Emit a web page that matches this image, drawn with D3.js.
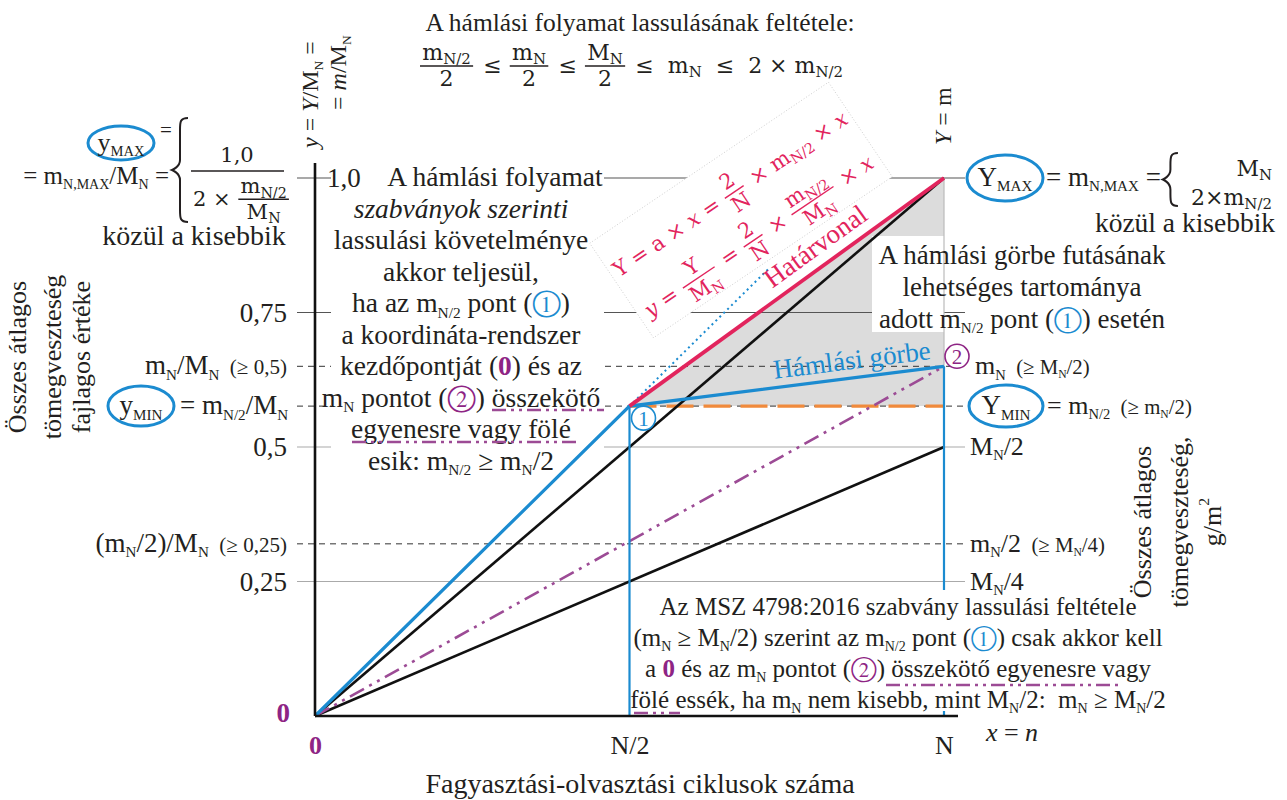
<!DOCTYPE html>
<html>
<head>
<meta charset="utf-8">
<script src="https://cdn.jsdelivr.net/npm/d3@7"></script>
<style>
  body { margin: 0; background: #fff; }
  svg { display: block; }
  text { white-space: pre; }
</style>
</head>
<body>
<svg id="chart" width="1287" height="800"></svg>
<script>
// chart values (x = n/N, y = m/M_N)
var cycleTicks = [0, 0.5, 1]
var cycleLabels = ["0", "N/2", "N"]
var ratioTicks = [0.25, 0.5, 0.75, 1.0]
var ratioLabels = ["0,25", "0,5", "0,75", "1,0"]
var refRatios = [0.65, 0.576, 0.32]      // m_N/M_N, m_N/2/M_N (y_MIN), (m_N/2)/M_N
var gorbeX = [0, 0.5, 1]                  // Hámlási görbe
var gorbeY = [0, 0.576, 0.65]
var hatarX = [0.5, 1]                     // Határvonal
var hatarY = [0.576, 1.0]
var rayX = [0, 1]
var rayUpperY = [0, 1.0]                  // 0 -> Y_MAX
var rayLowerY = [0, 0.5]                  // 0 -> M_N/2
var rayMnY = [0, 0.65]                    // 0 -> m_N (pont 2)
var extX = [0.5, 0.72]                    // blue dotted continuation
var extY = [0.576, 0.83]

var blue = "#1b8bd0", red = "#e2245d", purple = "#9c4b95", purpleText = "#8e2484"
var orange = "#f08a3c", ink = "#231f20"
var FF = "Liberation Serif"
var MF = "DejaVu Serif"
var CF = "FreeSerif"

var svg = d3.select("#chart").style("fill", ink).style("color", ink).attr("font-family", FF)

var x = d3.scaleLinear().domain([0, 1]).range([315, 944])
var y = d3.scaleLinear().domain([0, 1]).range([716, 178])
var line = d3.line().x(function (d) { return x(d[0]) }).y(function (d) { return y(d[1]) })
var zip = function (a, b) { return a.map(function (v, i) { return [v, b[i]] }) }

// ---------- text helpers ----------
function rich(t, str, fs, ff) {
    var parts = str.split(/(_\{[^}]*\}|\^\{[^}]*\}|\*[^*]+\*|\[[bpP][^\]]*\])/).filter(function (p) { return p !== "" })
    var sub = ff == MF ? 0.68 : 0.56
    var shift = 0
    parts.forEach(function (p) {
        var txt = p, size = fs, target = 0
        var ts = t.append("tspan")
        if (p.slice(0, 2) == "_{") { txt = p.slice(2, -1); size = fs * sub; target = fs * 0.2 }
        else if (p.slice(0, 2) == "^{") { txt = p.slice(2, -1); size = fs * 0.6; target = -fs * 0.45 }
        else if (p[0] == "*" && p.length > 2) { txt = p.slice(1, -1); ts.style("font-style", "italic") }
        else if (p[0] == "[") {
            txt = p.slice(2, -1)
            ts.style("fill", p[1] == "b" ? blue : purpleText)
            if (p[1] == "P") ts.style("font-weight", "bold")
            else { ts.attr("font-family", CF).style("font-family", CF); size = fs * 1.1 }
        }
        ts.attr("dy", target - shift).style("font-size", size + "px").text(txt)
        shift = target
    })
}

function mathRow(parent, items, fs, ff) {
    var g = parent.append("g")
    var cx = 0
    items.forEach(function (it) {
        if (typeof it === "string" || it.t !== undefined) {
            var s = typeof it === "string" ? it : it.t
            var f = typeof it === "string" ? fs : fs * it.s
            var t = g.append("text").attr("x", cx).attr("y", 0)
                .attr("font-family", ff).style("font-family", ff).style("font-size", f + "px")
            rich(t, s, f, ff)
            cx += t.node().getComputedTextLength()
        } else {
            var f2 = fs * (it.s || 1)
            var num = mathRow(g, [].concat(it.n), f2, ff)
            var den = mathRow(g, [].concat(it.d), f2, ff)
            var w = Math.max(num.width, den.width) + f2 * 0.3
            var bar = -0.32 * fs
            num.g.attr("transform", "translate(" + (cx + (w - num.width) / 2) + "," + (bar - 0.28 * f2) + ")")
            den.g.attr("transform", "translate(" + (cx + (w - den.width) / 2) + "," + (bar + 0.92 * f2) + ")")
            g.append("line").attr("x1", cx + 1).attr("x2", cx + w - 1).attr("y1", bar).attr("y2", bar)
                .attr("stroke", "currentColor").attr("stroke-width", 1.4)
            cx += w + f2 * 0.1
        }
    })
    return { g: g, width: cx }
}

function place(parent, px, py, items, fs, anchor, ff) {
    var r = mathRow(parent, [].concat(items), fs, ff || FF)
    var dx = anchor == "middle" ? -r.width / 2 : anchor == "end" ? -r.width : 0
    r.g.attr("transform", "translate(" + (px + dx) + "," + py + ")")
    return r
}

function brace(px, y0, y1, w) {
    var m = (y0 + y1) / 2, h = w / 2
    var d = "M" + (px + w) + "," + y0 + " C" + (px + h) + "," + y0 + " " + (px + h) + "," + (y0 + 4) + " " + (px + h) + "," + (y0 + 12) +
        " L" + (px + h) + "," + (m - 10) + " C" + (px + h) + "," + (m - 3) + " " + px + "," + m + " " + px + "," + m +
        " C" + px + "," + m + " " + (px + h) + "," + (m + 3) + " " + (px + h) + "," + (m + 10) +
        " L" + (px + h) + "," + (y1 - 12) + " C" + (px + h) + "," + (y1 - 4) + " " + (px + h) + "," + y1 + " " + (px + w) + "," + y1
    svg.append("path").attr("d", d).attr("fill", "none").attr("stroke", ink).attr("stroke-width", 2)
}

function ellipse(cx, cy, rx, ry) {
    svg.append("ellipse").attr("cx", cx).attr("cy", cy).attr("rx", rx).attr("ry", ry)
        .attr("fill", "none").attr("stroke", blue).attr("stroke-width", 3)
}

function dashDot(x1, x2, yy) {
    svg.append("line").attr("x1", x1).attr("x2", x2).attr("y1", yy).attr("y2", yy)
        .attr("stroke", purple).attr("stroke-width", 2.5).attr("stroke-dasharray", "14,5,3,5,3,5")
}

// ---------- area of possible curves ----------
var area = zip(hatarX, hatarY).concat([[1, refRatios[1]]])
svg.append("path").attr("d", line(area) + "Z").attr("fill", "#dcdcdc")

// ---------- grid lines ----------
var gx0 = x(0) - 18, gx1 = x(1) + 21
svg.selectAll(".grid").data(ratioTicks).enter().append("line")
    .attr("x1", gx0).attr("x2", gx1)
    .attr("y1", function (d) { return y(d) }).attr("y2", function (d) { return y(d) })
    .attr("stroke", function (d) { return d > 0.6 ? "#555" : "#aaa" }).attr("stroke-width", 1.1)
svg.selectAll(".ref").data(refRatios).enter().append("line")
    .attr("x1", gx0).attr("x2", gx1)
    .attr("y1", function (d) { return y(d) }).attr("y2", function (d) { return y(d) })
    .attr("stroke", "#333").attr("stroke-width", 1).attr("stroke-dasharray", "6,5")
svg.append("line").attr("x1", x(0.5)).attr("x2", x(1)).attr("y1", y(refRatios[1])).attr("y2", y(refRatios[1]))
    .attr("stroke", orange).attr("stroke-width", 3.2).attr("stroke-dasharray", "27,10")

// white panels behind text blocks
svg.append("rect").attr("x", 331).attr("y", 160).attr("width", 273).attr("height", 318).attr("fill", "#fff")
svg.append("rect").attr("x", 872).attr("y", 236).attr("width", 72).attr("height", 96).attr("fill", "#fff")
var boxG = svg.append("g").attr("transform", "translate(741,210) rotate(-34)")
boxG.append("rect").attr("x", -144).attr("y", -57).attr("width", 288).attr("height", 114)
    .attr("fill", "#fff").attr("stroke", "#c8c8c8").attr("stroke-width", 0.8).attr("stroke-dasharray", "1,2")

// ---------- lines ----------
svg.append("path").attr("d", line(zip(rayX, rayUpperY))).attr("stroke", "#111").attr("stroke-width", 2.6).attr("fill", "none")
svg.append("path").attr("d", line(zip(rayX, rayLowerY))).attr("stroke", "#111").attr("stroke-width", 2.6).attr("fill", "none")
svg.append("path").attr("d", line(zip(rayX, rayMnY))).attr("stroke", purple).attr("stroke-width", 2.6)
    .attr("fill", "none").attr("stroke-dasharray", "16,6,3,6,3,6")
svg.append("path").attr("d", line(zip(extX, extY))).attr("stroke", blue).attr("stroke-width", 2)
    .attr("fill", "none").attr("stroke-dasharray", "2,3.5")
svg.append("line").attr("x1", x(1)).attr("x2", x(1)).attr("y1", y(gorbeY[2])).attr("y2", y(hatarY[1]))
    .attr("stroke", "#bbb").attr("stroke-width", 1.2)
svg.selectAll(".drop").data([1, 2]).enter().append("line")
    .attr("x1", function (i) { return x(gorbeX[i]) }).attr("x2", function (i) { return x(gorbeX[i]) })
    .attr("y1", function (i) { return y(gorbeY[i]) }).attr("y2", y(0))
    .attr("stroke", blue).attr("stroke-width", 2.2)
svg.append("path").attr("d", line(zip(gorbeX, gorbeY))).attr("stroke", blue).attr("stroke-width", 3.2).attr("fill", "none")
svg.append("path").attr("d", line(zip(hatarX, hatarY))).attr("stroke", red).attr("stroke-width", 3.8).attr("fill", "none")

// ---------- axes ----------
svg.append("line").attr("x1", x(0)).attr("x2", x(1) + 14).attr("y1", y(0)).attr("y2", y(0)).attr("stroke", "#111").attr("stroke-width", 2.6)
svg.append("line").attr("x1", x(0)).attr("x2", x(0)).attr("y1", y(0)).attr("y2", y(1) - 15).attr("stroke", "#111").attr("stroke-width", 2.6)

var xAxis = svg.append("g").attr("transform", "translate(0," + y(0) + ")")
    .call(d3.axisBottom(x).tickValues(cycleTicks).tickFormat(function (d, i) { return cycleLabels[i] }).tickSize(0).tickPadding(20))
xAxis.attr("font-family", FF)
xAxis.select(".domain").remove()
xAxis.selectAll("text").style("font-size", "26px").style("font-family", FF).attr("fill", ink)
    .filter(function (d) { return d == 0 }).attr("fill", purpleText).style("font-weight", "bold")

var yAxis = svg.append("g").attr("transform", "translate(" + x(0) + ",0)")
    .call(d3.axisLeft(y).tickValues(ratioTicks).tickFormat(function (d, i) { return ratioLabels[i] }).tickSize(0).tickPadding(28))
yAxis.attr("font-family", FF)
yAxis.select(".domain").remove()
yAxis.selectAll("text").style("font-size", "27px").style("font-family", FF).attr("fill", ink)
    .filter(function (d) { return d == 1 }).attr("x", 12).attr("text-anchor", "start")

// white panel behind the bottom note
svg.append("rect").attr("x", 634).attr("y", 590).attr("width", 530).attr("height", 121).attr("fill", "#fff")

// ---------- annotations ----------
var FS = 27
place(svg, 640, 31, "A hámlási folyamat lassulásának feltétele:", 25.5, "middle")
place(svg, 419, 73, [{ n: "m_{N/2}", d: "2" }, " ≤ ", { n: "m_{N}", d: "2" }, " ≤ ", { n: "M_{N}", d: "2" }, " ≤  m_{N}  ≤  2 × m_{N/2}"], 22, "start", MF)

// left top: y_MAX
ellipse(121, 143, 33, 17)
place(svg, 121, 151, "y_{MAX}", 26, "middle")
place(svg, 160, 137, "=", 21, "start")
place(svg, 169, 184, "= m_{N,MAX}/M_{N} =", 25, "end")
brace(172, 118, 222, 16)
place(svg, 237, 162, "1,0", 21, "middle", MF)
svg.append("line").attr("x1", 191).attr("x2", 284).attr("y1", 171).attr("y2", 171).attr("stroke", ink).attr("stroke-width", 1.4)
place(svg, 193, 206, ["2 × ", { n: "m_{N/2}", d: "M_{N}" }], 21, "start", MF)
place(svg, 194, 245, "közül a kisebbik", 28, "middle")

// left tick-like labels
place(svg, 287, y(refRatios[0]) + 8, ["m_{N}/M_{N}", { t: "  (≥ 0,5)", s: 0.78 }], FS, "end")
ellipse(141, y(refRatios[1]), 33, 20)
place(svg, 141, y(refRatios[1]) + 8, "y_{MIN}", 27, "middle")
place(svg, 180, y(refRatios[1]) + 8, "= m_{N/2}/M_{N}", FS, "start")
place(svg, 287, y(refRatios[2]) + 8, ["(m_{N}/2)/M_{N}", { t: "  (≥ 0,25)", s: 0.78 }], FS, "end")
place(svg, 290, y(0) + 6, "[P0]", 27, "end")

// rotated axis captions
var rot = function (px, py, items, fs, anchor) {
    var g = svg.append("g").attr("transform", "translate(" + px + "," + py + ") rotate(-90)")
    place(g, 0, 0, items, fs, anchor)
}
rot(318, 148, "*y* = *Y*/M_{N} =", 24, "start")
rot(346, 110, "= *m*/M_{N}", 24, "start")
rot(951, 145, "*Y* = m", 24, "start")
rot(26, 357, "Összes átlagos", 26, "middle")
rot(61, 357, "tömegveszteség", 26, "middle")
rot(90, 357, "fajlagos értéke", 26, "middle")
rot(1151, 522, "Összes átlagos", 26, "middle")
rot(1188, 522, "tömegveszteség,", 26, "middle")
rot(1221, 522, "g/m^{2}", 26, "middle")

// middle text block
var midLines = ["A hámlási folyamat", "*szabványok szerinti*", "lassulási követelménye", "akkor teljesül,",
    "ha az m_{N/2} pont ([b①])", "a koordináta-rendszer", "kezdőpontját ([P0]) és az",
    "m_{N} pontot ([p②]) összekötő", "egyenesre vagy fölé", "esik: m_{N/2} ≥ m_{N}/2"]
midLines.forEach(function (s, i) {
    place(svg, i == 0 ? 495 : 461, 186 + i * 31.5, s, 27.5, "middle")
})
dashDot(492, 604, 410)
dashDot(352, 578, 442)

// right top: Y_MAX
ellipse(1005, y(1), 38, 23)
place(svg, 1005, y(1) + 8, "Y_{MAX}", 27, "middle")
var rm = place(svg, 1046, y(1) + 8, "= m_{N,MAX} =", 27, "start")
brace(1046 + rm.width + 2, 153, 206, 15)
place(svg, 1272, 176, "M_{N}", 22, "end", MF)
place(svg, 1272, 205, "2×m_{N/2}", 22, "end", MF)
place(svg, 1185, 232, "közül a kisebbik", 27.5, "middle")

var rightLines = ["A hámlási görbe futásának", "lehetséges tartománya", "adott m_{N/2} pont ([b①]) esetén"]
rightLines.forEach(function (s, i) { place(svg, 1022, 264 + i * 32, s, 27, "middle") })

// right side labels
place(svg, 975, y(refRatios[0]) + 8, ["m_{N}", { t: "  (≥ M_{N}/2)", s: 0.8 }], 26, "start")
ellipse(1006, y(refRatios[1]), 37, 21)
place(svg, 1006, y(refRatios[1]) + 8, "Y_{MIN}", 27, "middle")
place(svg, 1047, y(refRatios[1]) + 8, ["= m_{N/2}", { t: "  (≥ m_{N}/2)", s: 0.8 }], 26, "start")
place(svg, 970, y(0.5) + 8, "M_{N}/2", 26, "start")
place(svg, 970, y(refRatios[2]) + 8, ["m_{N}/2", { t: "  (≥ M_{N}/4)", s: 0.8 }], 26, "start")
place(svg, 970, y(0.25) + 8, "M_{N}/4", 26, "start")

// formulas along the boundary line
boxG.style("fill", red).style("color", red)
place(boxG, 0, -12, ["Y = a × *x* = ", { n: "2", d: "N" }, " × m_{N/2} × *x*"], 21, "middle", MF)
place(boxG, 0, 39, ["*y* = ", { n: "Y", d: "M_{N}" }, " = ", { n: "2", d: "N" }, " × ", { n: "m_{N/2}", d: "M_{N}" }, " × *x*"], 21, "middle", MF)

var hatarAngle = Math.atan2(y(hatarY[1]) - y(hatarY[0]), x(hatarX[1]) - x(hatarX[0])) * 180 / Math.PI
var hg = svg.append("g").attr("transform", "translate(816,247) rotate(" + hatarAngle + ")").style("fill", red)
place(hg, 0, 8, "Határvonal", 27, "middle")
var gorbeAngle = Math.atan2(y(gorbeY[2]) - y(gorbeY[1]), x(gorbeX[2]) - x(gorbeX[1])) * 180 / Math.PI
var gg = svg.append("g").attr("transform", "translate(852,361) rotate(" + gorbeAngle + ")").style("fill", blue)
place(gg, 0, 8, "Hámlási görbe", 27, "middle")

// point markers 1 and 2
var marks = [{ i: 1, dx: 14, dy: 12, c: blue, t: "1" }, { i: 2, dx: 13, dy: -10, c: purpleText, t: "2" }]
marks.forEach(function (m) {
    var cx = x(gorbeX[m.i]) + m.dx, cy = y(gorbeY[m.i]) + m.dy
    svg.append("circle").attr("cx", cx).attr("cy", cy).attr("r", 12).attr("fill", "#fff").attr("stroke", m.c).attr("stroke-width", 1.6)
    svg.append("text").attr("x", cx).attr("y", cy + 7.5).attr("text-anchor", "middle").attr("font-family", FF)
        .style("font-size", "21px").attr("fill", m.c).text(m.t)
})

// bottom note
var noteLines = ["Az MSZ 4798:2016 szabvány lassulási feltétele",
    "(m_{N} ≥ M_{N}/2) szerint az m_{N/2} pont ([b①]) csak akkor kell",
    "a [P0] és az m_{N} pontot ([p②]) összekötő egyenesre vagy",
    "fölé essék, ha m_{N} nem kisebb, mint M_{N}/2:  m_{N} ≥ M_{N}/2"]
noteLines.forEach(function (s, i) { place(svg, 898, 615 + i * 31, s, 25, "middle") })
dashDot(886, 1120, 685)
dashDot(634, 680, 713)

place(svg, 1012, 741, "*x* = *n*", 26, "middle")
place(svg, 640, 793, "Fagyasztási-olvasztási ciklusok száma", 28, "middle")
</script>
</body>
</html>
